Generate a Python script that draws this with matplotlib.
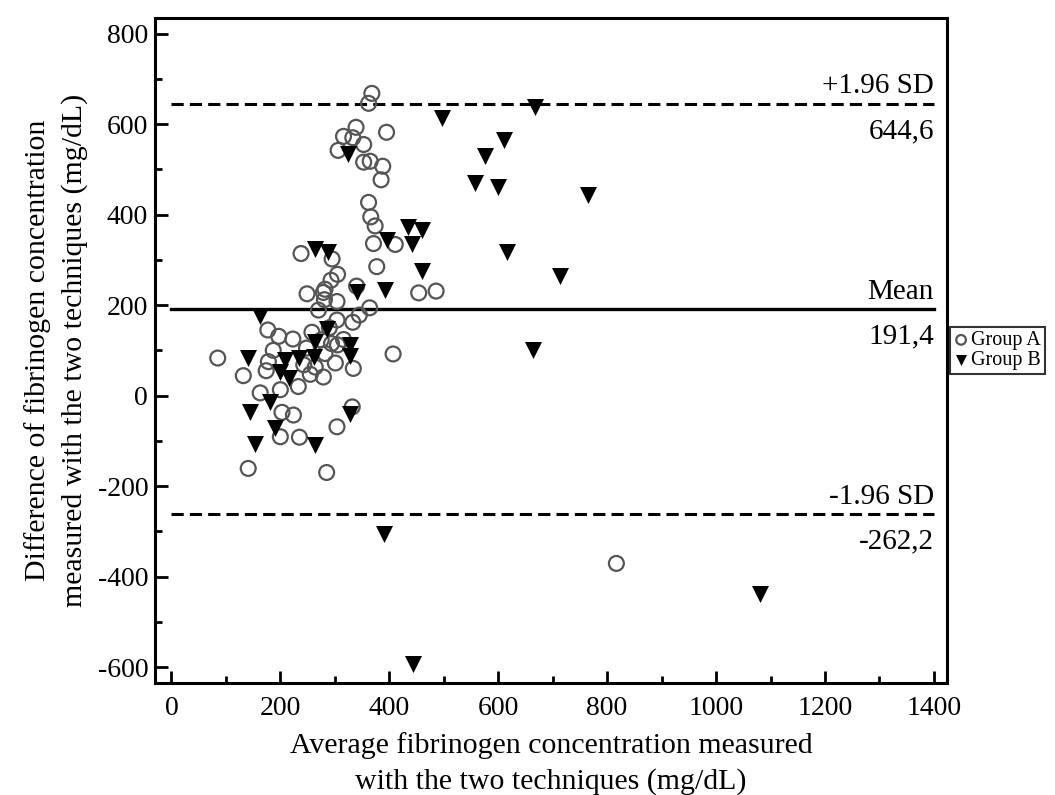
import matplotlib
matplotlib.use('Agg')
import matplotlib.pyplot as plt
from matplotlib.ticker import MultipleLocator

plt.rcParams['font.family'] = ['Liberation Serif', 'DejaVu Serif']
plt.rcParams['axes.unicode_minus'] = False

# Group A (circles): average vs difference, mg/dL
group_a_x = [368, 362, 339, 395, 316, 333, 353, 306, 353, 365, 388, 385, 362, 366, 374,
             371, 411, 238, 295, 377, 305, 293, 282, 340, 454, 486, 249, 279,
             281, 304, 270, 364, 345, 304, 333, 177, 197, 223, 258, 275, 316, 305,
             85, 187, 178, 174, 132, 243, 255, 279, 301, 282, 334, 233, 200, 163,
             407, 332, 304, 203, 224, 200, 235, 141, 285, 817,
             294, 264, 248, 290]
group_a_y = [668, 646, 593, 582, 573, 570, 555, 542, 516, 518, 507, 477, 427, 395, 375,
             336, 334, 314, 302, 285, 268, 255, 235, 242, 227, 231, 225, 228,
             212, 208, 189, 194, 178, 167, 162, 145, 131, 125, 140, 123, 124, 112,
             83, 100, 75, 55, 44, 68, 47, 41, 72, 93, 60, 20, 13, 6,
             92, -25, -69, -37, -43, -91, -92, -161, -170, -371,
             115, 63, 105, 150]

# Group B (triangles)
group_b_x = [497, 667, 610, 576, 557, 599, 765, 616, 714, 663, 325, 435, 461, 395, 441,
             264, 287, 461, 392, 340, 163, 285, 263, 328, 328, 261, 208, 234, 140,
             200, 215, 181, 145, 191, 328, 154, 263, 391, 444, 1081]
group_b_y = [613, 639, 564, 529, 469, 460, 443, 317, 265, 101, 535, 373, 367, 345, 336,
             325, 318, 276, 233, 230, 175, 147, 118, 112, 88, 85, 79, 83, 83,
             53, 38, -15, -37, -72, -41, -106, -110, -305, -593, -439]

mean_diff = 191.4
upper_loa = 644.6
lower_loa = -262.2

fig = plt.figure(figsize=(10.55, 7.95), dpi=100)
ax = fig.add_axes([0.147, 0.1405, 0.7506, 0.8365])

ax.scatter(group_a_x, group_a_y, s=115, marker='o', facecolors='none',
           edgecolors='#555555', linewidths=1.6, label='Group A', zorder=3)
ax.scatter(group_b_x, group_b_y, s=150, marker='v', color='black',
           linewidths=0, label='Group B', zorder=3)

# Bland-Altman reference lines
ax.plot([0, 1400], [upper_loa, upper_loa], color='black', lw=2.2, ls=(0, (4, 2)))
ax.plot([0, 1400], [mean_diff, mean_diff], color='black', lw=2.4)
ax.plot([0, 1400], [lower_loa, lower_loa], color='black', lw=2.2, ls=(0, (4, 2)))

fs = 21
ax.text(1400, upper_loa + 10, '+1.96 SD', ha='right', va='bottom', fontsize=fs)
ax.text(1400, upper_loa - 32, '644,6', ha='right', va='top', fontsize=fs)
ax.text(1400, mean_diff + 8, 'Mean', ha='right', va='bottom', fontsize=fs)
ax.text(1400, mean_diff - 32, '191,4', ha='right', va='top', fontsize=fs)
ax.text(1400, lower_loa + 10, '-1.96 SD', ha='right', va='bottom', fontsize=fs)
ax.text(1400, lower_loa - 32, '-262,2', ha='right', va='top', fontsize=fs)

ax.set_xlim(-30, 1424)
ax.set_ylim(-636, 834)
ax.xaxis.set_major_locator(MultipleLocator(200))
ax.xaxis.set_minor_locator(MultipleLocator(100))
ax.yaxis.set_major_locator(MultipleLocator(200))
ax.yaxis.set_minor_locator(MultipleLocator(100))
ax.tick_params(which='both', direction='in', width=2, labelsize=20)
ax.tick_params(which='major', length=9)
ax.tick_params(which='minor', length=5)
ax.tick_params(axis='y', pad=5)
ax.tick_params(axis='x', pad=9)
for sp in ax.spines.values():
    sp.set_linewidth(2.2)

ax.set_xlabel('Average fibrinogen concentration measured\nwith the two techniques (mg/dL)',
              fontsize=21.5, labelpad=8, linespacing=1.45)
ax.set_ylabel('Difference of fibrinogen concentration\nmeasured with the two techniques (mg/dL)',
              fontsize=21.5, labelpad=7, linespacing=1.5)

leg = fig.legend(loc='upper left', bbox_to_anchor=(950 / 1055, 1 - 327 / 795),
                 fontsize=14.5, frameon=True, fancybox=False, handlelength=0.7,
                 handletextpad=0.15, borderpad=0.2, labelspacing=0.05,
                 borderaxespad=0, markerscale=0.65)
leg.get_frame().set_edgecolor('black')
leg.get_frame().set_linewidth(1.5)

fig.savefig('out.png', dpi=100)
